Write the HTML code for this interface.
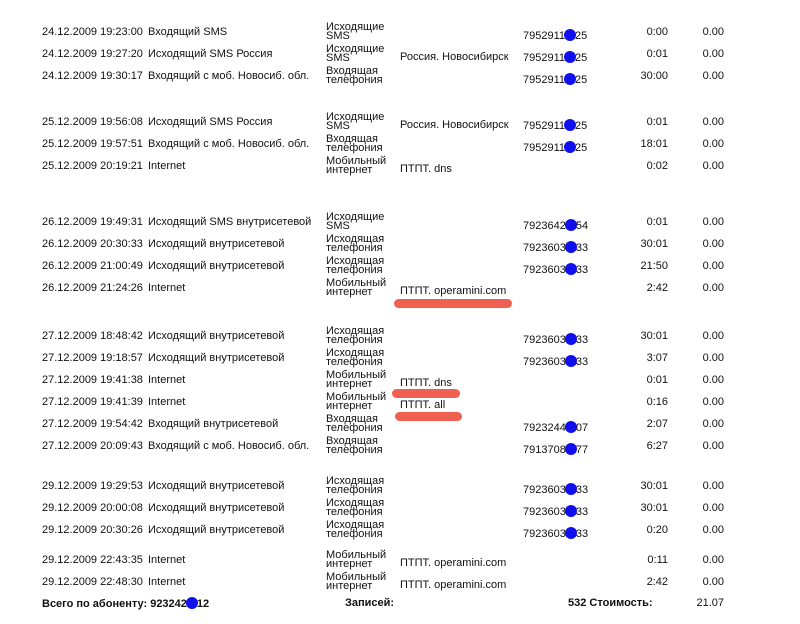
<!DOCTYPE html>
<html><head><meta charset="utf-8"><style>
body{margin:0;width:800px;height:624px;background:#fff;position:relative;overflow:hidden;font-family:"Liberation Sans",sans-serif;font-size:11px;color:#111}
.r{position:absolute;left:0;width:800px;height:14px}
.r span{position:absolute;top:0;white-space:nowrap;line-height:13px}
.d{left:42px}.e{left:148px}.t{left:326px;top:-3px!important;line-height:9px!important}
.g{left:400px}.n{left:523px}.u{right:132px}.c{right:76px}
.dot{display:inline-block;width:12px;height:12px;border-radius:50%;background:#1010ee;vertical-align:-2px;margin:0 -1px}
.red{position:absolute;height:9px;border-radius:5px;background:#f06050}
.f{position:absolute;top:597px;font-weight:bold;font-size:11px}
</style></head><body>
<div class="r" style="top:26px"><span class="d">24.12.2009 19:23:00</span><span class="e">Входящий SMS</span><span class="t">Исходящие<br>SMS</span><span class="n" style="top:3px">7952911<i class="dot"></i>25</span><span class="u">0:00</span><span class="c">0.00</span></div>
<div class="r" style="top:48px"><span class="d">24.12.2009 19:27:20</span><span class="e">Исходящий SMS Россия</span><span class="t">Исходящие<br>SMS</span><span class="g" style="top:3px">Россия. Новосибирск</span><span class="n" style="top:3px">7952911<i class="dot"></i>25</span><span class="u">0:01</span><span class="c">0.00</span></div>
<div class="r" style="top:70px"><span class="d">24.12.2009 19:30:17</span><span class="e">Входящий с моб. Новосиб. обл.</span><span class="t">Входящая<br>телефония</span><span class="n" style="top:3px">7952911<i class="dot"></i>25</span><span class="u">30:00</span><span class="c">0.00</span></div>
<div class="r" style="top:116px"><span class="d">25.12.2009 19:56:08</span><span class="e">Исходящий SMS Россия</span><span class="t">Исходящие<br>SMS</span><span class="g" style="top:3px">Россия. Новосибирск</span><span class="n" style="top:3px">7952911<i class="dot"></i>25</span><span class="u">0:01</span><span class="c">0.00</span></div>
<div class="r" style="top:138px"><span class="d">25.12.2009 19:57:51</span><span class="e">Входящий с моб. Новосиб. обл.</span><span class="t">Входящая<br>телефония</span><span class="n" style="top:3px">7952911<i class="dot"></i>25</span><span class="u">18:01</span><span class="c">0.00</span></div>
<div class="r" style="top:160px"><span class="d">25.12.2009 20:19:21</span><span class="e">Internet</span><span class="t">Мобильный<br>интернет</span><span class="g" style="top:3px">ПТПТ. dns</span><span class="u">0:02</span><span class="c">0.00</span></div>
<div class="r" style="top:216px"><span class="d">26.12.2009 19:49:31</span><span class="e">Исходящий SMS внутрисетевой</span><span class="t">Исходящие<br>SMS</span><span class="n" style="top:3px">7923642<i class="dot"></i>54</span><span class="u">0:01</span><span class="c">0.00</span></div>
<div class="r" style="top:238px"><span class="d">26.12.2009 20:30:33</span><span class="e">Исходящий внутрисетевой</span><span class="t">Исходящая<br>телефония</span><span class="n" style="top:3px">7923603<i class="dot"></i>33</span><span class="u">30:01</span><span class="c">0.00</span></div>
<div class="r" style="top:260px"><span class="d">26.12.2009 21:00:49</span><span class="e">Исходящий внутрисетевой</span><span class="t">Исходящая<br>телефония</span><span class="n" style="top:3px">7923603<i class="dot"></i>33</span><span class="u">21:50</span><span class="c">0.00</span></div>
<div class="r" style="top:282px"><span class="d">26.12.2009 21:24:26</span><span class="e">Internet</span><span class="t">Мобильный<br>интернет</span><span class="g" style="top:3px">ПТПТ. operamini.com</span><span class="u">2:42</span><span class="c">0.00</span></div>
<div class="r" style="top:330px"><span class="d">27.12.2009 18:48:42</span><span class="e">Исходящий внутрисетевой</span><span class="t">Исходящая<br>телефония</span><span class="n" style="top:3px">7923603<i class="dot"></i>33</span><span class="u">30:01</span><span class="c">0.00</span></div>
<div class="r" style="top:352px"><span class="d">27.12.2009 19:18:57</span><span class="e">Исходящий внутрисетевой</span><span class="t">Исходящая<br>телефония</span><span class="n" style="top:3px">7923603<i class="dot"></i>33</span><span class="u">3:07</span><span class="c">0.00</span></div>
<div class="r" style="top:374px"><span class="d">27.12.2009 19:41:38</span><span class="e">Internet</span><span class="t">Мобильный<br>интернет</span><span class="g" style="top:3px">ПТПТ. dns</span><span class="u">0:01</span><span class="c">0.00</span></div>
<div class="r" style="top:396px"><span class="d">27.12.2009 19:41:39</span><span class="e">Internet</span><span class="t">Мобильный<br>интернет</span><span class="g" style="top:3px">ПТПТ. all</span><span class="u">0:16</span><span class="c">0.00</span></div>
<div class="r" style="top:418px"><span class="d">27.12.2009 19:54:42</span><span class="e">Входящий внутрисетевой</span><span class="t">Входящая<br>телефония</span><span class="n" style="top:3px">7923244<i class="dot"></i>07</span><span class="u">2:07</span><span class="c">0.00</span></div>
<div class="r" style="top:440px"><span class="d">27.12.2009 20:09:43</span><span class="e">Входящий с моб. Новосиб. обл.</span><span class="t">Входящая<br>телефония</span><span class="n" style="top:3px">7913708<i class="dot"></i>77</span><span class="u">6:27</span><span class="c">0.00</span></div>
<div class="r" style="top:480px"><span class="d">29.12.2009 19:29:53</span><span class="e">Исходящий внутрисетевой</span><span class="t">Исходящая<br>телефония</span><span class="n" style="top:3px">7923603<i class="dot"></i>33</span><span class="u">30:01</span><span class="c">0.00</span></div>
<div class="r" style="top:502px"><span class="d">29.12.2009 20:00:08</span><span class="e">Исходящий внутрисетевой</span><span class="t">Исходящая<br>телефония</span><span class="n" style="top:3px">7923603<i class="dot"></i>33</span><span class="u">30:01</span><span class="c">0.00</span></div>
<div class="r" style="top:524px"><span class="d">29.12.2009 20:30:26</span><span class="e">Исходящий внутрисетевой</span><span class="t">Исходящая<br>телефония</span><span class="n" style="top:3px">7923603<i class="dot"></i>33</span><span class="u">0:20</span><span class="c">0.00</span></div>
<div class="r" style="top:554px"><span class="d">29.12.2009 22:43:35</span><span class="e">Internet</span><span class="t">Мобильный<br>интернет</span><span class="g" style="top:3px">ПТПТ. operamini.com</span><span class="u">0:11</span><span class="c">0.00</span></div>
<div class="r" style="top:576px"><span class="d">29.12.2009 22:48:30</span><span class="e">Internet</span><span class="t">Мобильный<br>интернет</span><span class="g" style="top:3px">ПТПТ. operamini.com</span><span class="u">2:42</span><span class="c">0.00</span></div>
<div class="red" style="left:394px;top:299px;width:118px"></div>
<div class="red" style="left:392px;top:389px;width:68px"></div>
<div class="red" style="left:395px;top:412px;width:67px"></div>
<div class="f" style="left:42px">Всего по абоненту: 923242<i class="dot"></i>12</div>
<div class="f" style="left:345px">Записей:</div>
<div class="f" style="left:568px">532 Стоимость:</div>
<div class="f" style="right:76px;font-weight:normal">21.07</div>
</body></html>
